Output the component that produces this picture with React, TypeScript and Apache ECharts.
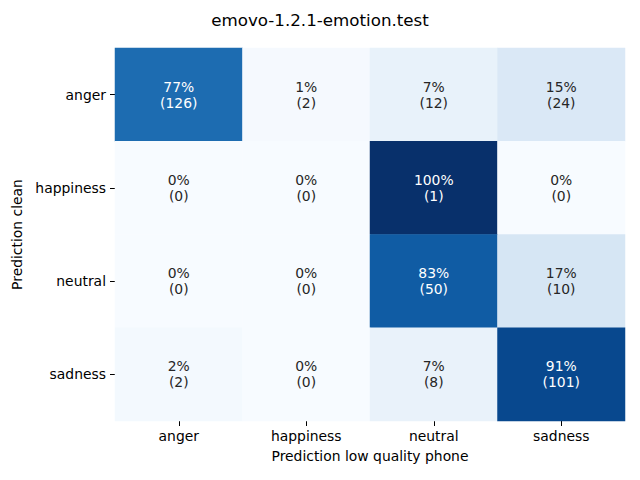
import React, { useEffect, useRef } from "react";
import * as echarts from "echarts";

const title = "emovo-1.2.1-emotion.test";
const xCategories = ["anger", "happiness", "neutral", "sadness"];
const yCategories = ["anger", "happiness", "neutral", "sadness"];
const xName = "Prediction low quality phone";
const yName = "Prediction clean";
// counts per row (clean) and column (low quality phone)
const countsAnger = [126, 2, 12, 24];
const countsHappiness = [0, 0, 1, 0];
const countsNeutral = [0, 0, 50, 10];
const countsSadness = [2, 0, 8, 101];
const blues = ["#f7fbff", "#deebf7", "#c6dbef", "#9ecae1", "#6baed6", "#4292c6", "#2171b5", "#08519c", "#08306b"];

export default function App() {
  const ref = useRef<HTMLDivElement>(null);
  useEffect(() => {
    if (!ref.current) return;
    const chart = echarts.init(ref.current, undefined, { renderer: "svg" });
    const rows = [countsAnger, countsHappiness, countsNeutral, countsSadness];
    const data: any[] = [];
    rows.forEach((row, yi) => {
      const total = row.reduce((a, b) => a + b, 0);
      row.forEach((c, xi) => {
        const frac = total > 0 ? c / total : 0;
        data.push({
          value: [xi, yi, frac * 100],
          count: c,
          label: { color: frac > 0.5 ? "#ffffff" : "#262626" },
        });
      });
    });
    const font = "DejaVu Sans";
    chart.setOption({
      animation: false,
      title: {
        text: title,
        left: "center",
        top: 6,
        textStyle: { fontFamily: font, fontSize: 16.7, fontWeight: "normal", color: "#000" },
      },
      grid: { left: 115, right: 15, top: 48, bottom: 59 },
      xAxis: {
        type: "category",
        data: xCategories,
        name: xName,
        nameLocation: "middle",
        nameGap: 28,
        nameTextStyle: { fontFamily: font, fontSize: 13.9, color: "#000" },
        axisLine: { show: false },
        axisTick: { show: true, alignWithLabel: true, length: 5, lineStyle: { color: "#000" } },
        axisLabel: { fontFamily: font, fontSize: 13.9, color: "#000", margin: 8 },
        splitLine: { show: false },
      },
      yAxis: {
        type: "category",
        data: yCategories,
        inverse: true,
        name: yName,
        nameLocation: "middle",
        nameGap: 86,
        nameRotate: 90,
        nameTextStyle: { fontFamily: font, fontSize: 13.9, color: "#000" },
        axisLine: { show: false },
        axisTick: { show: true, alignWithLabel: true, length: 5, lineStyle: { color: "#000" } },
        axisLabel: { fontFamily: font, fontSize: 13.9, color: "#000", margin: 9 },
        splitLine: { show: false },
      },
      visualMap: {
        show: false,
        min: 0,
        max: 100,
        dimension: 2,
        inRange: { color: blues },
      },
      series: [
        {
          type: "heatmap",
          data,
          itemStyle: { borderWidth: 0 },
          label: {
            show: true,
            fontFamily: font,
            fontSize: 13.9,
            lineHeight: 16,
            formatter: (p: any) => `${Math.round(p.value[2])}%\n(${p.data.count})`,
          },
          emphasis: { disabled: true },
        },
      ],
    });
    return () => chart.dispose();
  }, []);
  return <div ref={ref} style={{ width: 640, height: 480, margin: -8 }} />;
}
